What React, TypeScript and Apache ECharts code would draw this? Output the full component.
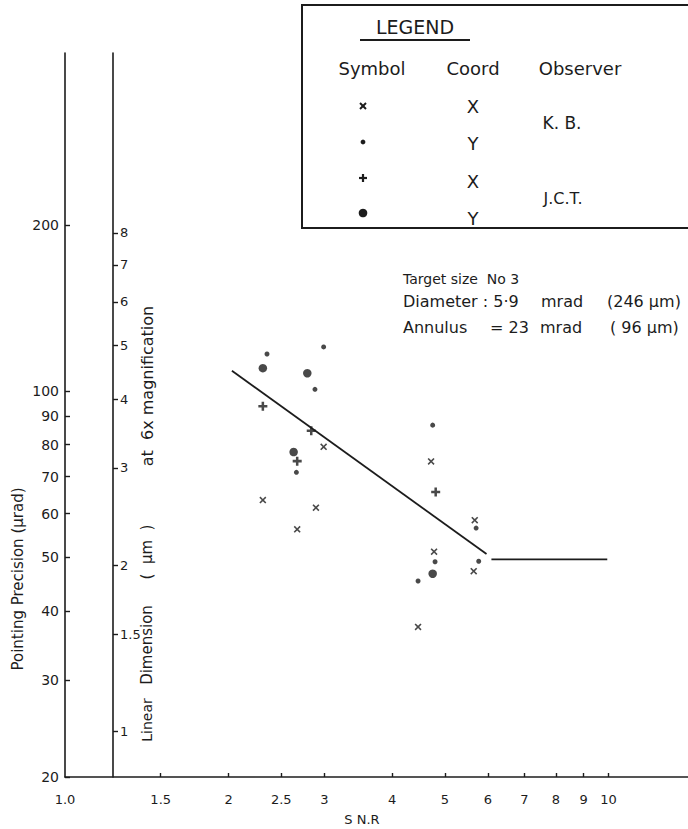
import React, { useEffect, useRef } from 'react';
import * as echarts from 'echarts';

// ---- tick definitions ----
const snrTicks = [1, 1.5, 2, 2.5, 3, 4, 5, 6, 7, 8, 9, 10];
const snrTickLabels = ['1.0', '1.5', '2', '2.5', '3', '4', '5', '6', '7', '8', '9', '10'];
const precisionTicks = [20, 30, 40, 50, 60, 70, 80, 90, 100, 200];
const precisionTickLabels = ['20', '30', '40', '50', '60', '70', '80', '90', '100', '200'];
const linearTicks = [1, 1.5, 2, 3, 4, 5, 6, 7, 8];
const linearTickLabels = ['1', '1.5', '2', '3', '4', '5', '6', '7', '8'];

// ---- axis ranges ----
const SNR_MIN = 1;
const SNR_MAX = 14;
const PREC_MIN = 20;
const PREC_MAX = 410;
const MICRORAD_PER_MICRON = 24.2; // linear dimension scale (µm at 6x) = precision / this

// ---- data: [SNR, pointing precision µrad] ----
const kbX = [
  [2.312, 63.5], [2.895, 61.5], [2.674, 56.2], [2.991, 79.3], [4.715, 74.6],
  [5.673, 58.4], [4.775, 51.2], [5.648, 47.2], [4.462, 37.4],
];
const kbY = [
  [2.353, 116.8], [2.991, 120.3], [2.883, 100.8], [2.665, 71.3], [4.747, 86.8],
  [5.706, 56.5], [4.795, 49.1], [4.462, 45.3], [5.769, 49.2],
];
const jctX = [
  [2.312, 93.9], [2.838, 84.8], [2.674, 74.7], [4.808, 65.7],
];
const jctY = [
  [2.312, 110.1], [2.791, 107.8], [2.634, 77.6], [4.747, 46.7],
];
const fitLine = [[2.028, 108.9], [5.963, 50.7]];
const plateauLine = [[6.088, 49.6], [9.945, 49.6]];

const L = Math.log10;
const toLog = (pts: number[][]) => pts.map(([x, y]) => [L(x), L(y)]);
const fmt = (ticks: number[], labels: string[]) => (v: number) => {
  const i = ticks.findIndex((t) => Math.abs(L(t) - v) < 1e-6);
  return i >= 0 ? labels[i] : '';
};

const INK = '#1c1c1c';
const FONT = "'DejaVu Sans', 'Liberation Sans', sans-serif";

const crossPath =
  'path://M0,1.6 L1.6,0 L5,3.4 L8.4,0 L10,1.6 L6.6,5 L10,8.4 L8.4,10 L5,6.6 L1.6,10 L0,8.4 L3.4,5 Z';
const plusPath = 'path://M3.6,0 H6.4 V3.6 H10 V6.4 H6.4 V10 H3.6 V6.4 H0 V3.6 H3.6 Z';

export default function App() {
  const ref = useRef<HTMLDivElement>(null);

  useEffect(() => {
    if (!ref.current) return;
    const chart = echarts.init(ref.current, undefined, { renderer: 'svg' });
    const umShift = L(MICRORAD_PER_MICRON);

    const txt = (text: string, x: number, y: number, size: number, align = 'left', extra: any = {}) => ({
      type: 'text',
      x,
      y,
      silent: true,
      ...extra,
      style: {
        text,
        fill: INK,
        fontSize: size,
        fontFamily: FONT,
        align,
        textAlign: align,
        verticalAlign: 'middle',
        textVerticalAlign: 'middle',
      },
    });
    const ln = (x1: number, y1: number, x2: number, y2: number, w = 1.6) => ({
      type: 'line',
      silent: true,
      shape: { x1, y1, x2, y2 },
      style: { stroke: INK, lineWidth: w },
    });

    const option: any = {
      animation: false,
      backgroundColor: '#ffffff',
      textStyle: { fontFamily: FONT, color: INK },
      grid: { left: 65, right: 0, top: 53, bottom: 52, containLabel: false },
      xAxis: {
        type: 'value',
        min: L(SNR_MIN),
        max: L(SNR_MAX),
        axisLine: { show: true, onZero: false, lineStyle: { color: INK, width: 1.6 } },
        axisTick: {
          show: true,
          inside: true,
          length: 4,
          customValues: snrTicks.slice(1).map(L),
          lineStyle: { color: INK, width: 1.4 },
        },
        axisLabel: {
          customValues: snrTicks.map(L),
          formatter: fmt(snrTicks, snrTickLabels),
          color: INK,
          fontSize: 13,
          fontFamily: FONT,
          margin: 16,
        },
        splitLine: { show: false },
      },
      yAxis: [
        {
          type: 'value',
          min: L(PREC_MIN),
          max: L(PREC_MAX),
          position: 'left',
          axisLine: { show: true, onZero: false, lineStyle: { color: INK, width: 1.6 } },
          axisTick: {
            show: true,
            inside: true,
            length: 5,
            customValues: precisionTicks.map(L),
            lineStyle: { color: INK, width: 1.4 },
          },
          axisLabel: {
            customValues: precisionTicks.map(L),
            formatter: fmt(precisionTicks, precisionTickLabels),
            color: INK,
            fontSize: 14,
            fontFamily: FONT,
            margin: 6,
          },
          splitLine: { show: false },
        },
        {
          type: 'value',
          min: L(PREC_MIN) - umShift,
          max: L(PREC_MAX) - umShift,
          position: 'left',
          offset: -48,
          axisLine: { show: true, onZero: false, lineStyle: { color: INK, width: 1.6 } },
          axisTick: {
            show: true,
            inside: true,
            length: 5,
            customValues: linearTicks.map(L),
            lineStyle: { color: INK, width: 1.4 },
          },
          axisLabel: {
            inside: true,
            customValues: linearTicks.map(L),
            formatter: fmt(linearTicks, linearTickLabels),
            color: INK,
            fontSize: 13,
            fontFamily: FONT,
            margin: 7,
          },
          splitLine: { show: false },
        },
      ],
      series: [
        {
          name: 'K.B. X',
          type: 'scatter',
          data: toLog(kbX),
          symbol: crossPath,
          symbolSize: 7,
          itemStyle: { color: INK },
        },
        {
          name: 'K.B. Y',
          type: 'scatter',
          data: toLog(kbY),
          symbol: 'circle',
          symbolSize: 5,
          itemStyle: { color: INK },
        },
        {
          name: 'J.C.T. X',
          type: 'scatter',
          data: toLog(jctX),
          symbol: plusPath,
          symbolSize: 9,
          itemStyle: { color: INK },
        },
        {
          name: 'J.C.T. Y',
          type: 'scatter',
          data: toLog(jctY),
          symbol: 'circle',
          symbolSize: 8.5,
          itemStyle: { color: INK },
        },
        {
          name: 'fit',
          type: 'line',
          data: toLog(fitLine),
          showSymbol: false,
          symbol: 'none',
          lineStyle: { color: INK, width: 1.8 },
        },
        {
          name: 'plateau',
          type: 'line',
          data: toLog(plateauLine),
          showSymbol: false,
          symbol: 'none',
          lineStyle: { color: INK, width: 1.8 },
        },
      ],
      graphic: [
        // legend box
        {
          type: 'rect',
          silent: true,
          shape: { x: 302, y: 5, width: 400, height: 223 },
          style: { fill: 'rgba(0,0,0,0)', stroke: INK, lineWidth: 2 },
        },
        txt('LEGEND', 415, 27, 19, 'center'),
        ln(360, 40, 470, 40, 2),
        txt('Symbol', 372, 68, 18, 'center'),
        txt('Coord', 473, 68, 18, 'center'),
        txt('Observer', 580, 68, 18, 'center'),
        // symbols
        ln(360, 103, 366, 109, 2),
        ln(366, 103, 360, 109, 2),
        { type: 'circle', silent: true, shape: { cx: 363, cy: 142, r: 2.4 }, style: { fill: INK } },
        ln(359, 178, 367, 178, 2.2),
        ln(363, 174, 363, 182, 2.2),
        { type: 'circle', silent: true, shape: { cx: 363, cy: 213, r: 4.3 }, style: { fill: INK } },
        txt('X', 473, 106, 18, 'center'),
        txt('Y', 473, 143, 18, 'center'),
        txt('X', 473, 181, 18, 'center'),
        txt('Y', 473, 218, 18, 'center'),
        txt('K. B.', 562, 123, 17, 'center'),
        txt('J.C.T.', 563, 198, 16, 'center'),
        // annotation
        txt('Target size  No 3', 403, 279, 14),
        txt('Diameter : 5·9', 403, 301, 16),
        txt('mrad', 541, 301, 16),
        txt('(246 µm)', 607, 301, 16),
        txt('Annulus', 403, 327, 16),
        txt('= 23', 490, 327, 16),
        txt('mrad', 540, 327, 16),
        txt('( 96 µm)', 610, 327, 16),
        // axis names
        txt('S N.R', 362, 819, 13, 'center'),
        txt('Pointing Precision (µrad)', 18, 579, 15, 'center', { rotation: Math.PI / 2 }),
        txt('Linear', 147, 720, 14, 'center', { rotation: Math.PI / 2 }),
        txt('Dimension', 147, 645, 15, 'center', { rotation: Math.PI / 2 }),
        txt('(  µm  )', 147, 552, 15, 'center', { rotation: Math.PI / 2 }),
        txt('at  6x magnification', 147, 386, 16, 'center', { rotation: Math.PI / 2 }),
      ],
    };

    chart.setOption(option);
    return () => chart.dispose();
  }, []);

  return (
    <div
      ref={ref}
      style={{ position: 'absolute', left: 0, top: 0, width: 688, height: 829, background: '#fff' }}
    />
  );
}
